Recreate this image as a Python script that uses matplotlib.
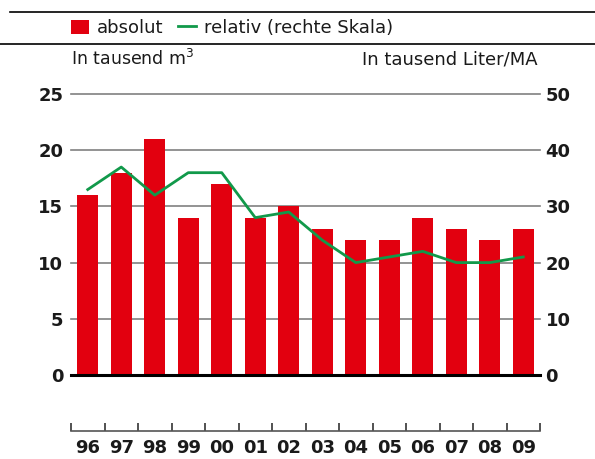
import matplotlib
matplotlib.use("Agg")
import matplotlib.pyplot as plt
from matplotlib.patches import Patch
from matplotlib.lines import Line2D
import numpy as np

# data
years = ["96", "97", "98", "99", "00", "01", "02", "03", "04", "05", "06", "07", "08", "09"]
absolut = [16, 18, 21, 14, 17, 14, 15, 13, 12, 12, 14, 13, 12, 13]       # tausend m3
relativ = [33, 37, 32, 36, 36, 28, 29, 24, 20, 21, 22, 20, 20, 21]       # tausend Liter/MA
left_ticks = [0, 5, 10, 15, 20, 25]
right_ticks = [0, 10, 20, 30, 40, 50]

RED = "#e2000f"
GREEN = "#11994a"
TXT = "#1a1a1a"

plt.rcParams["font.family"] = ["DejaVu Sans"]

W, H = 595, 459
fig = plt.figure(figsize=(W / 100, H / 100), dpi=100)

def fx(px):
    return px / W

def fy(py):
    return 1 - py / H

x = np.arange(len(years))

# main plot area
ax = fig.add_axes([fx(71), fy(375), fx(540) - fx(71), fy(94) - fy(375)])
ax.bar(x, absolut, width=0.63, color=RED, zorder=2)
ax.set_xlim(-0.5, len(years) - 0.5)
ax.set_ylim(0, 25)
ax.set_yticks(left_ticks)
for t in left_ticks[1:]:
    ax.axhline(t, color="#808080", lw=1.2, zorder=1, clip_on=False)
ax.axhline(0, color="black", lw=2.2, zorder=3, clip_on=False)
for s in ax.spines.values():
    s.set_visible(False)
ax.set_xticks([])
ax.tick_params(axis="y", length=0, pad=5.5, labelsize=13, labelcolor=TXT)
for lab in ax.get_yticklabels():
    lab.set_fontweight("bold")

ax2 = ax.twinx()
ax2.plot(x, relativ, color=GREEN, lw=2, zorder=4)
ax2.set_ylim(0, 50)
ax2.set_yticks(right_ticks)
for s in ax2.spines.values():
    s.set_visible(False)
ax2.tick_params(axis="y", length=0, pad=4, labelsize=13, labelcolor=TXT)
for lab in ax2.get_yticklabels():
    lab.set_fontweight("bold")

# separate year axis at the bottom
axb = fig.add_axes([fx(71), fy(431), fx(540) - fx(71), 0.001])
axb.set_xlim(-0.5, len(years) - 0.5)
axb.set_yticks([])
for k in ["top", "left", "right"]:
    axb.spines[k].set_visible(False)
axb.spines["bottom"].set_color("#555555")
axb.spines["bottom"].set_linewidth(1.2)
axb.set_xticks(np.arange(-0.5, len(years), 1.0))
axb.set_xticklabels([])
axb.tick_params(axis="x", which="major", direction="in", length=5.5, width=1.2, color="#333333")
axb.set_xticks(x, minor=True)
axb.set_xticklabels(years, minor=True)
axb.tick_params(axis="x", which="minor", length=0, pad=5.5, labelsize=13, labelcolor=TXT)
for lab in axb.get_xticklabels(minor=True):
    lab.set_fontweight("bold")

# header rules
fig.add_artist(Line2D([fx(10), 1], [fy(12), fy(12)], color="black", lw=1.2))
fig.add_artist(Line2D([0, 1], [fy(44), fy(44)], color="black", lw=1.2))

# legend
handles = [Patch(facecolor=RED, edgecolor="none"),
           Line2D([], [], color=GREEN, lw=2)]
fig.legend(handles, ["absolut", "relativ (rechte Skala)"], loc="center left",
           bbox_to_anchor=(fx(71), fy(28)), ncol=2, frameon=False, fontsize=13,
           borderpad=0, borderaxespad=0, handlelength=1.0, handleheight=0.8,
           handletextpad=0.45, columnspacing=0.8, labelcolor=TXT)

# axis titles
fig.text(fx(71), fy(59), "In tausend m$^3$", ha="left", va="center", fontsize=12.5, color=TXT)
fig.text(fx(538), fy(59), "In tausend Liter/MA", ha="right", va="center", fontsize=13, color=TXT)

fig.savefig("out.png", dpi=100)
